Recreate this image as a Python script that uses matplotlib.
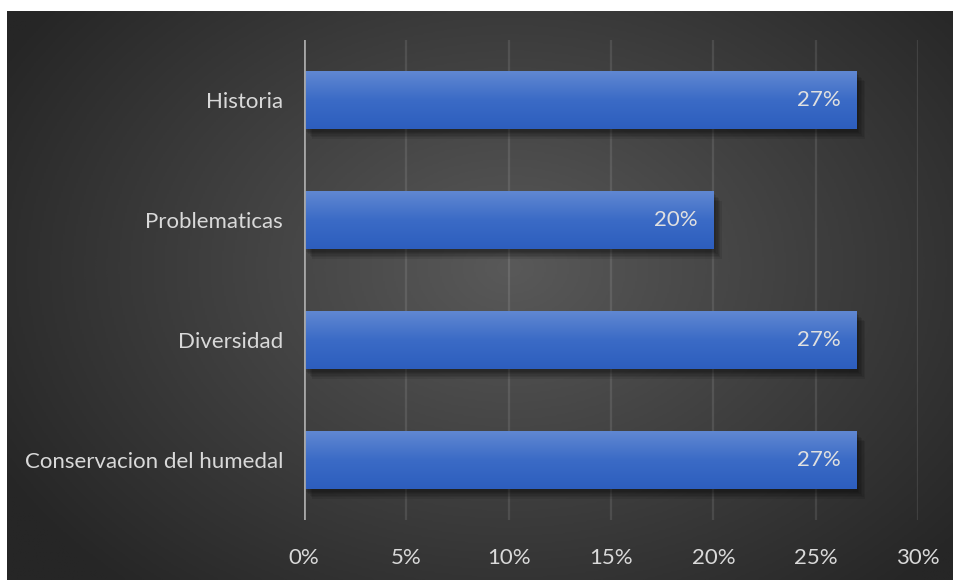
import numpy as np
import matplotlib
matplotlib.use("Agg")
import matplotlib.pyplot as plt
from matplotlib.colors import LinearSegmentedColormap
import matplotlib.patheffects as pe

categories = ["Conservacion del humedal", "Diversidad", "Problematicas", "Historia"]
values = [27, 27, 20, 27]
xticks = [0, 5, 10, 15, 20, 25, 30]
xticklabels = ["0%", "5%", "10%", "15%", "20%", "25%", "30%"]

FONT = "Lato"
FS = 16
TXT = "#d9d9d9"

W, H = 954, 580
fig = plt.figure(figsize=(W / 100, H / 100), dpi=100, facecolor="white")

# background radial gradient
bg = fig.add_axes([7 / W, 0, 1 - 7 / W, 1 - 11 / H])
bg.set_axis_off()
ny, nx = 300, 500
yy, xx = np.mgrid[0:ny, 0:nx]
cx, cy = nx * 0.53, ny * 0.45
r = np.sqrt(((xx - cx) / (nx * 0.62)) ** 2 + ((yy - cy) / (ny * 0.75)) ** 2)
r = np.clip(r, 0, 1)
bgcmap = LinearSegmentedColormap.from_list("bg", ["#595959", "#262626"])
bg.imshow(r, cmap=bgcmap, aspect="auto", extent=[0, 1, 0, 1], vmin=0, vmax=1)
bg.set_xlim(0, 1)
bg.set_ylim(0, 1)

left, right = 304 / W, 918 / W
top, bottom = 1 - 40 / H, 1 - 520 / H
ax = fig.add_axes([left, bottom, right - left, top - bottom])
ax.patch.set_alpha(0)
ax.set_xlim(0, 30)
ax.set_ylim(-0.5, len(categories) - 0.5)

for t in xticks[1:]:
    ax.axvline(t, color="white", alpha=0.1, lw=1.6, zorder=1)
ax.axvline(0, color="#a6a6a6", lw=2.0, zorder=4)

ypos = np.arange(len(categories))
shadows = [pe.SimplePatchShadow(offset=(o, -o - 1), shadow_rgbFace="black", alpha=0.09)
           for o in (6, 5, 4, 3, 2, 1)]
bars = ax.barh(ypos, values, height=0.48, color="#3f6fcc", zorder=2,
               path_effects=shadows + [pe.Normal()])

grad = np.linspace(0, 1, 100).reshape(-1, 1)
barcmap = LinearSegmentedColormap.from_list("bar", ["#6088d2", "#3b6bc6", "#2d5ebe"])
for b in bars:
    x0, y0, w, h = b.get_x(), b.get_y(), b.get_width(), b.get_height()
    im = ax.imshow(grad, cmap=barcmap, aspect="auto", extent=[x0, x0 + w, y0, y0 + h],
                   origin="upper", zorder=3)
    im.set_clip_path(b)

for yv, v in zip(ypos, values):
    ax.text(v - 0.75, yv, f"{v}%", ha="right", va="center", color="#e0e0e0",
            fontsize=FS, family=FONT, zorder=5)

ax.set_xlim(0, 30)
ax.set_ylim(-0.5, len(categories) - 0.5)
ax.set_yticks(ypos)
ax.set_yticklabels(categories, color=TXT, fontsize=FS, family=FONT)
ax.set_xticks(xticks)
ax.set_xticklabels(xticklabels, color=TXT, fontsize=FS, family=FONT)
ax.tick_params(axis="both", length=0)
ax.tick_params(axis="y", pad=15)
ax.tick_params(axis="x", pad=20)
for s in ax.spines.values():
    s.set_visible(False)

fig.savefig("out.png", dpi=100, facecolor="white")
